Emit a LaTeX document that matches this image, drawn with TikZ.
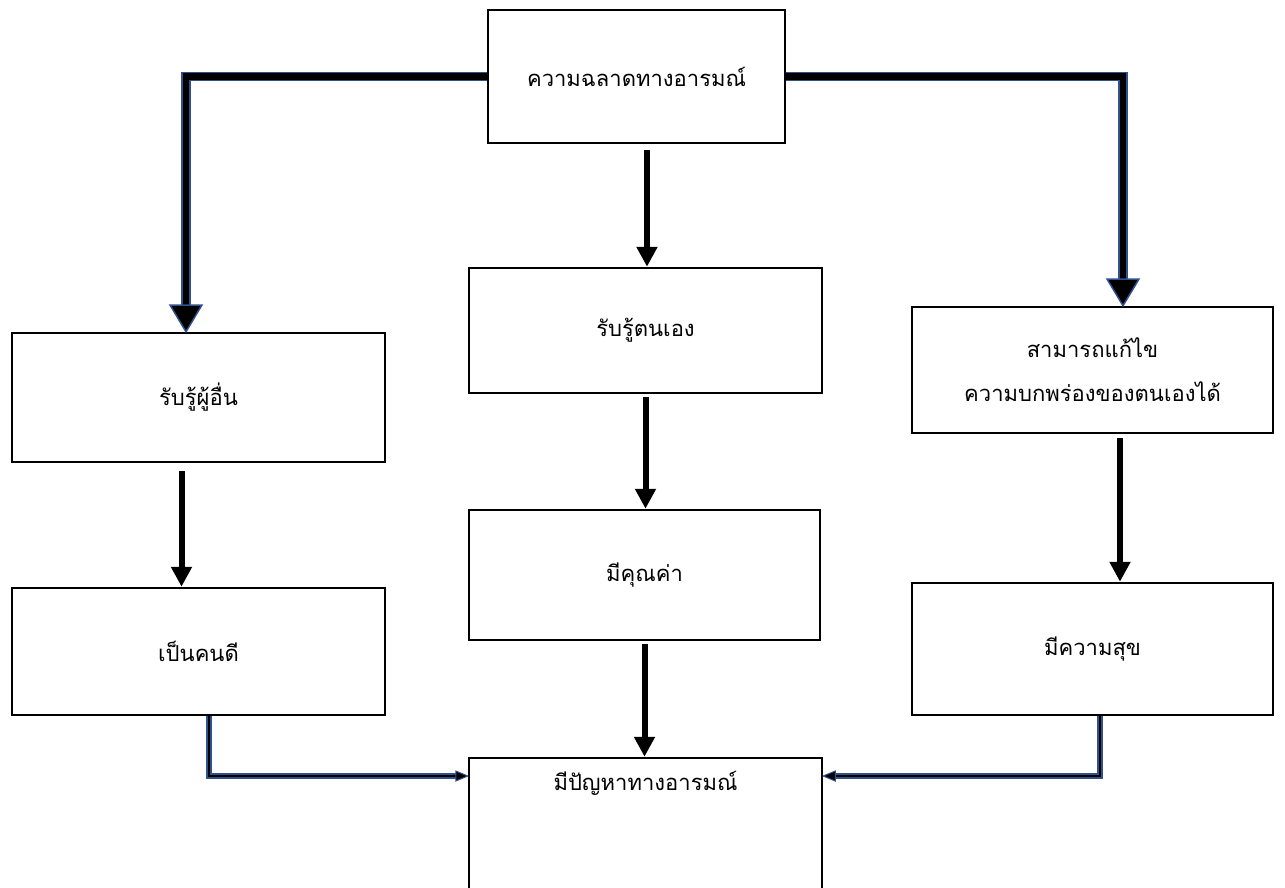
\documentclass[tikz,border=0pt]{standalone}
\usepackage{fontspec}
\newfontfamily\thaifont[Script=Thai]{Loma}
\usetikzlibrary{arrows.meta,calc}
\definecolor{navy}{HTML}{2F528F}
\begin{document}
\begin{tikzpicture}[x=1pt,y=-1pt,
  box/.style={draw=black, line width=2.5pt, fill=white, inner sep=0pt, align=center},
  lbl/.style={inner sep=0pt, align=center, font=\thaifont\fontsize{22}{44}\selectfont},
  fatline/.style={draw=navy, line width=1.5pt, double=black, double distance=6.5pt},
  fathead/.style={fill=black, draw=navy, line width=1.5pt, line join=miter},
  thinline/.style={draw=navy, line width=1.3pt, double=black, double distance=2.6pt},
  thinhead/.style={fill=black, draw=navy, line width=1pt},
  blk/.style={draw=black, line width=6pt, -{Triangle[length=20pt,width=20pt]}}
]
\useasboundingbox (0,0) rectangle (1285,888);

\coordinate (la) at (186,305);
\coordinate (ra) at (1123,279);
\coordinate (bl) at (209,776);
\coordinate (br) at (1100,776);

\node[box, minimum width=297pt, minimum height=133pt] (top) at (636.5,76.5) {};
\node[box, minimum width=353pt, minimum height=125pt] (self) at (645.5,330.5) {};
\node[box, minimum width=373pt, minimum height=129pt] (other) at (198.5,397.5) {};
\node[box, minimum width=361pt, minimum height=126pt] (fix) at (1092.5,370) {};
\node[box, minimum width=373pt, minimum height=127pt] (good) at (198.5,651.5) {};
\node[box, minimum width=351pt, minimum height=130pt] (value) at (644.5,575) {};
\node[box, minimum width=361pt, minimum height=132pt] (happy) at (1092.5,649) {};
\node[box, minimum width=353pt, minimum height=134pt] (prob) at (645.5,825) {};

% thick elbow connectors
\draw[fatline] (top.west) -| (la);
\filldraw[fathead] ($(la)+(-16,0)$) -- (la |- other.north) -- ($(la)+(16,0)$) -- cycle;
\draw[fatline] (top.east) -| (ra);
\filldraw[fathead] ($(ra)+(-16,0)$) -- (ra |- fix.north) -- ($(ra)+(16,0)$) -- cycle;

% black arrows
\draw[blk] ($(self.north |- top.south)+(1.5,6)$) -- ($(self.north)+(1.5,0)$);
\draw[blk] ($(other.south)+(-17,8)$) -- ($(good.north)+(-17,0)$);
\draw[blk] ($(self.south)+(0,3)$) -- (value.north -| self.south);
\draw[blk] ($(fix.south)+(27.5,4)$) -- ($(happy.north)+(27.5,0)$);
\draw[blk] ($(value.south)+(0,3)$) -- (prob.north -| value.south);

% thin elbow connectors
\draw[thinline] (good.south -| bl) -- (bl) -- ($(bl -| prob.west)+(-12,0)$);
\filldraw[thinhead] ($(bl -| prob.west)+(-12,-5)$) -- (bl -| prob.west) -- ($(bl -| prob.west)+(-12,5)$) -- cycle;
\draw[thinline] (happy.south -| br) -- (br) -- ($(br -| prob.east)+(12,0)$);
\filldraw[thinhead] ($(br -| prob.east)+(12,-5)$) -- (br -| prob.east) -- ($(br -| prob.east)+(12,5)$) -- cycle;

% labels
\node[lbl] (ttop) at (top) {ความฉลาดทางอารมณ์};
\node[lbl] (tself) at (self) {รับรู้ตนเอง};
\node[lbl] (tother) at (other) {รับรู้ผู้อื่น};
\node[lbl] (tfix) at (fix) {สามารถแก้ไข\\ความบกพร่องของตนเองได้};
\node[lbl] (tgood) at (good) {เป็นคนดี};
\node[lbl] (tvalue) at (value) {มีคุณค่า};
\node[lbl] (thappy) at (happy) {มีความสุข};
\node[lbl] (tprob) at (645.5,783) {มีปัญหาทางอารมณ์};
\end{tikzpicture}
\end{document}
